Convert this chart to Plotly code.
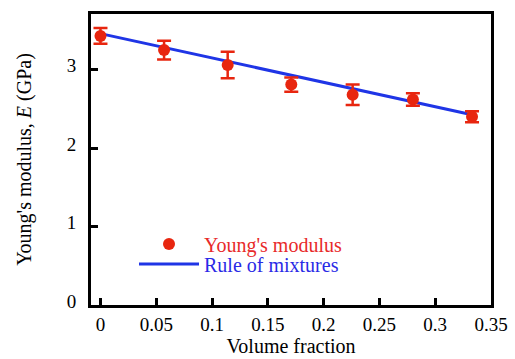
import plotly.graph_objects as go

vol_frac = [0.0, 0.057, 0.114, 0.171, 0.226, 0.280, 0.333]
modulus = [3.43, 3.25, 3.06, 2.81, 2.68, 2.62, 2.40]
modulus_err = [0.10, 0.12, 0.17, 0.09, 0.13, 0.08, 0.07]

rom_x = [0.0, 0.335]
rom_y = [3.46, 2.42]

x_ticks = [0, 0.05, 0.1, 0.15, 0.2, 0.25, 0.3, 0.35]
x_tick_text = ["0", "0.05", "0.1", "0.15", "0.2", "0.25", "0.3", "0.35"]
y_ticks = [0, 1, 2, 3]

RED = "#e8260f"
BLUE = "#1f35e6"
FONT = "Liberation Serif"
FS = 19
TS = 20

fig = go.Figure()
fig.add_trace(go.Scatter(
    x=rom_x, y=rom_y, mode="lines",
    line=dict(color=BLUE, width=3),
    name="<span style='color:#2a2ae6'>Rule of mixtures</span>",
    legend="legend2",
))
fig.add_trace(go.Scatter(
    x=vol_frac, y=modulus, mode="markers",
    marker=dict(color=RED, size=12),
    error_y=dict(type="data", array=modulus_err, color=RED, thickness=2.5, width=7),
    name="<span style='color:#e82a2a'>Young's modulus</span>",
    legend="legend",
))

axis_common = dict(
    showline=True, linecolor="black", linewidth=3, mirror=True,
    ticks="inside", ticklen=7, tickwidth=3, tickcolor="black",
    showgrid=False, zeroline=False, automargin=False,
    tickfont=dict(family=FONT, size=FS, color="black"),
)

legend_common = dict(
    xanchor="left", yanchor="middle",
    bgcolor="rgba(0,0,0,0)",
    font=dict(family=FONT, size=TS),
    itemwidth=60,
)

fig.update_layout(
    width=515, height=359,
    margin=dict(l=91, r=24, t=14, b=54),
    paper_bgcolor="white", plot_bgcolor="white",
    font=dict(family=FONT, size=FS, color="black"),
    showlegend=True,
    legend=dict(x=0.1075, y=0.21, **legend_common),
    legend2=dict(x=0.1075, y=0.141, **legend_common),
    xaxis=dict(
        range=[-0.0085, 0.35], tickvals=x_ticks, ticktext=x_tick_text,
        ticklabelstandoff=0,
        title=dict(text="Volume fraction", font=dict(family=FONT, size=TS), standoff=4),
        **axis_common,
    ),
    yaxis=dict(
        range=[0, 3.71], tickvals=y_ticks, ticklabelstandoff=8, ticklabelshift=-4,
        title=dict(text="Young's modulus, <i>E</i> (GPa)", font=dict(family=FONT, size=TS), standoff=30),
        **axis_common,
    ),
)

fig.write_html("out.html", config={"displayModeBar": False},
               post_script="document.body.style.margin='0';")
